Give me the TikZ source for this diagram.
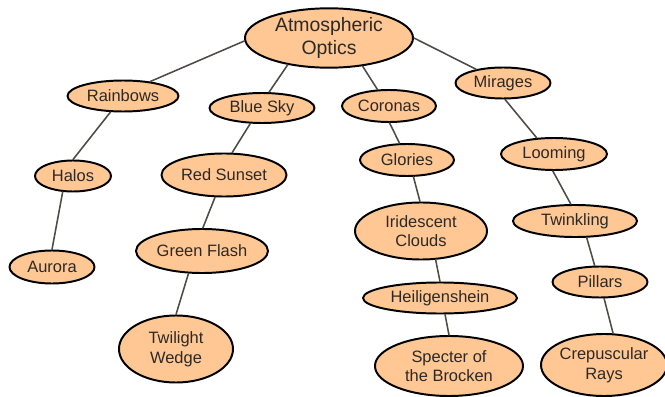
\documentclass[tikz,border=0pt]{standalone}
\usepackage{fontspec}
\setmainfont{Liberation Sans}
\usepackage{tikz}
\usetikzlibrary{shapes.geometric}
\definecolor{peach}{RGB}{254,199,148}
\definecolor{linkgray}{RGB}{78,74,68}
\definecolor{textgray}{RGB}{45,40,36}

\begin{document}
\begin{tikzpicture}[line cap=round,line join=round,x=0.025cm,y=0.025cm,
  topic/.style={ellipse,draw=black,line width=1.4pt,fill=peach,inner sep=0pt,
    text=textgray,align=center,font=\fontsize{11.7}{14}\selectfont},
  link/.style={draw=linkgray,line width=1.1pt}]
\useasboundingbox (0,0) rectangle (665,396);
% root
\node[topic,minimum width=4.2cm,minimum height=1.3cm,font=\fontsize{13.8}{17}\selectfont] (atmos) at (329,358) {Atmospheric\\Optics};
% first level
\node[topic,minimum width=2.775cm,minimum height=0.775cm] (rainbows) at (123,300) {Rainbows};
\node[topic,minimum width=2.625cm,minimum height=0.75cm] (bluesky) at (262,288) {Blue Sky};
\node[topic,minimum width=2.35cm,minimum height=0.8cm] (coronas) at (389,290) {Coronas};
\node[topic,minimum width=2.375cm,minimum height=0.775cm] (mirages) at (503,313) {Mirages};
% rainbows branch
\node[topic,minimum width=1.9cm,minimum height=0.775cm] (halos) at (73,220) {Halos};
\node[topic,minimum width=2.125cm,minimum height=0.825cm] (aurora) at (52,129) {Aurora};
% blue sky branch
\node[topic,minimum width=3.125cm,minimum height=1.075cm] (redsunset) at (224,221) {Red Sunset};
\node[topic,minimum width=3.3cm,minimum height=1.1cm] (greenflash) at (202,145) {Green Flash};
\node[topic,minimum width=2.85cm,minimum height=1.675cm] (twilight) at (176,47) {Twilight\\Wedge};
% coronas branch
\node[topic,minimum width=2.35cm,minimum height=0.8cm] (glories) at (407,236) {Glories};
\node[topic,minimum width=3.3cm,minimum height=1.425cm] (iridescent) at (421,165) {Iridescent\\Clouds};
\node[topic,minimum width=3.85cm,minimum height=0.775cm] (heiligen) at (440,98) {Heiligenshein};
\node[topic,minimum width=3.7cm,minimum height=1.5cm] (specter) at (449,30) {Specter of\\the Brocken};
% mirages branch
\node[topic,minimum width=2.65cm,minimum height=0.8cm] (looming) at (554,242) {Looming};
\node[topic,minimum width=3.1cm,minimum height=0.8cm] (twinkling) at (575,175) {Twinkling};
\node[topic,minimum width=2.375cm,minimum height=0.775cm] (pillars) at (600,114) {Pillars};
\node[topic,minimum width=3.15cm,minimum height=1.55cm] (crepuscular) at (604,31) {Crepuscular\\Rays};
% links
\draw[link] (atmos.182) -- (rainbows.28);
\draw[link] (atmos.213) -- (bluesky.66);
\draw[link] (atmos.320) -- (coronas.125);
\draw[link] (atmos.0) -- (mirages.153);
\draw[link] (rainbows.232) -- (halos.90);
\draw[link] (halos.237) -- (aurora.90);
\draw[link] (bluesky.233) -- (redsunset.70);
\draw[link] (redsunset.248) -- (greenflash.88);
\draw[link] (greenflash.239) -- (twilight.90);
\draw[link] (coronas.272) -- (glories.114);
\draw[link] (glories.291) -- (iridescent.92);
\draw[link] (iridescent.297) -- (heiligen.90);
\draw[link] (heiligen.287) -- (specter.90);
\draw[link] (mirages.277) -- (looming.137);
\draw[link] (looming.266) -- (twinkling.104);
\draw[link] (twinkling.305) -- (pillars.108);
\draw[link] (pillars.284) -- (crepuscular.74);
\end{tikzpicture}
\end{document}
